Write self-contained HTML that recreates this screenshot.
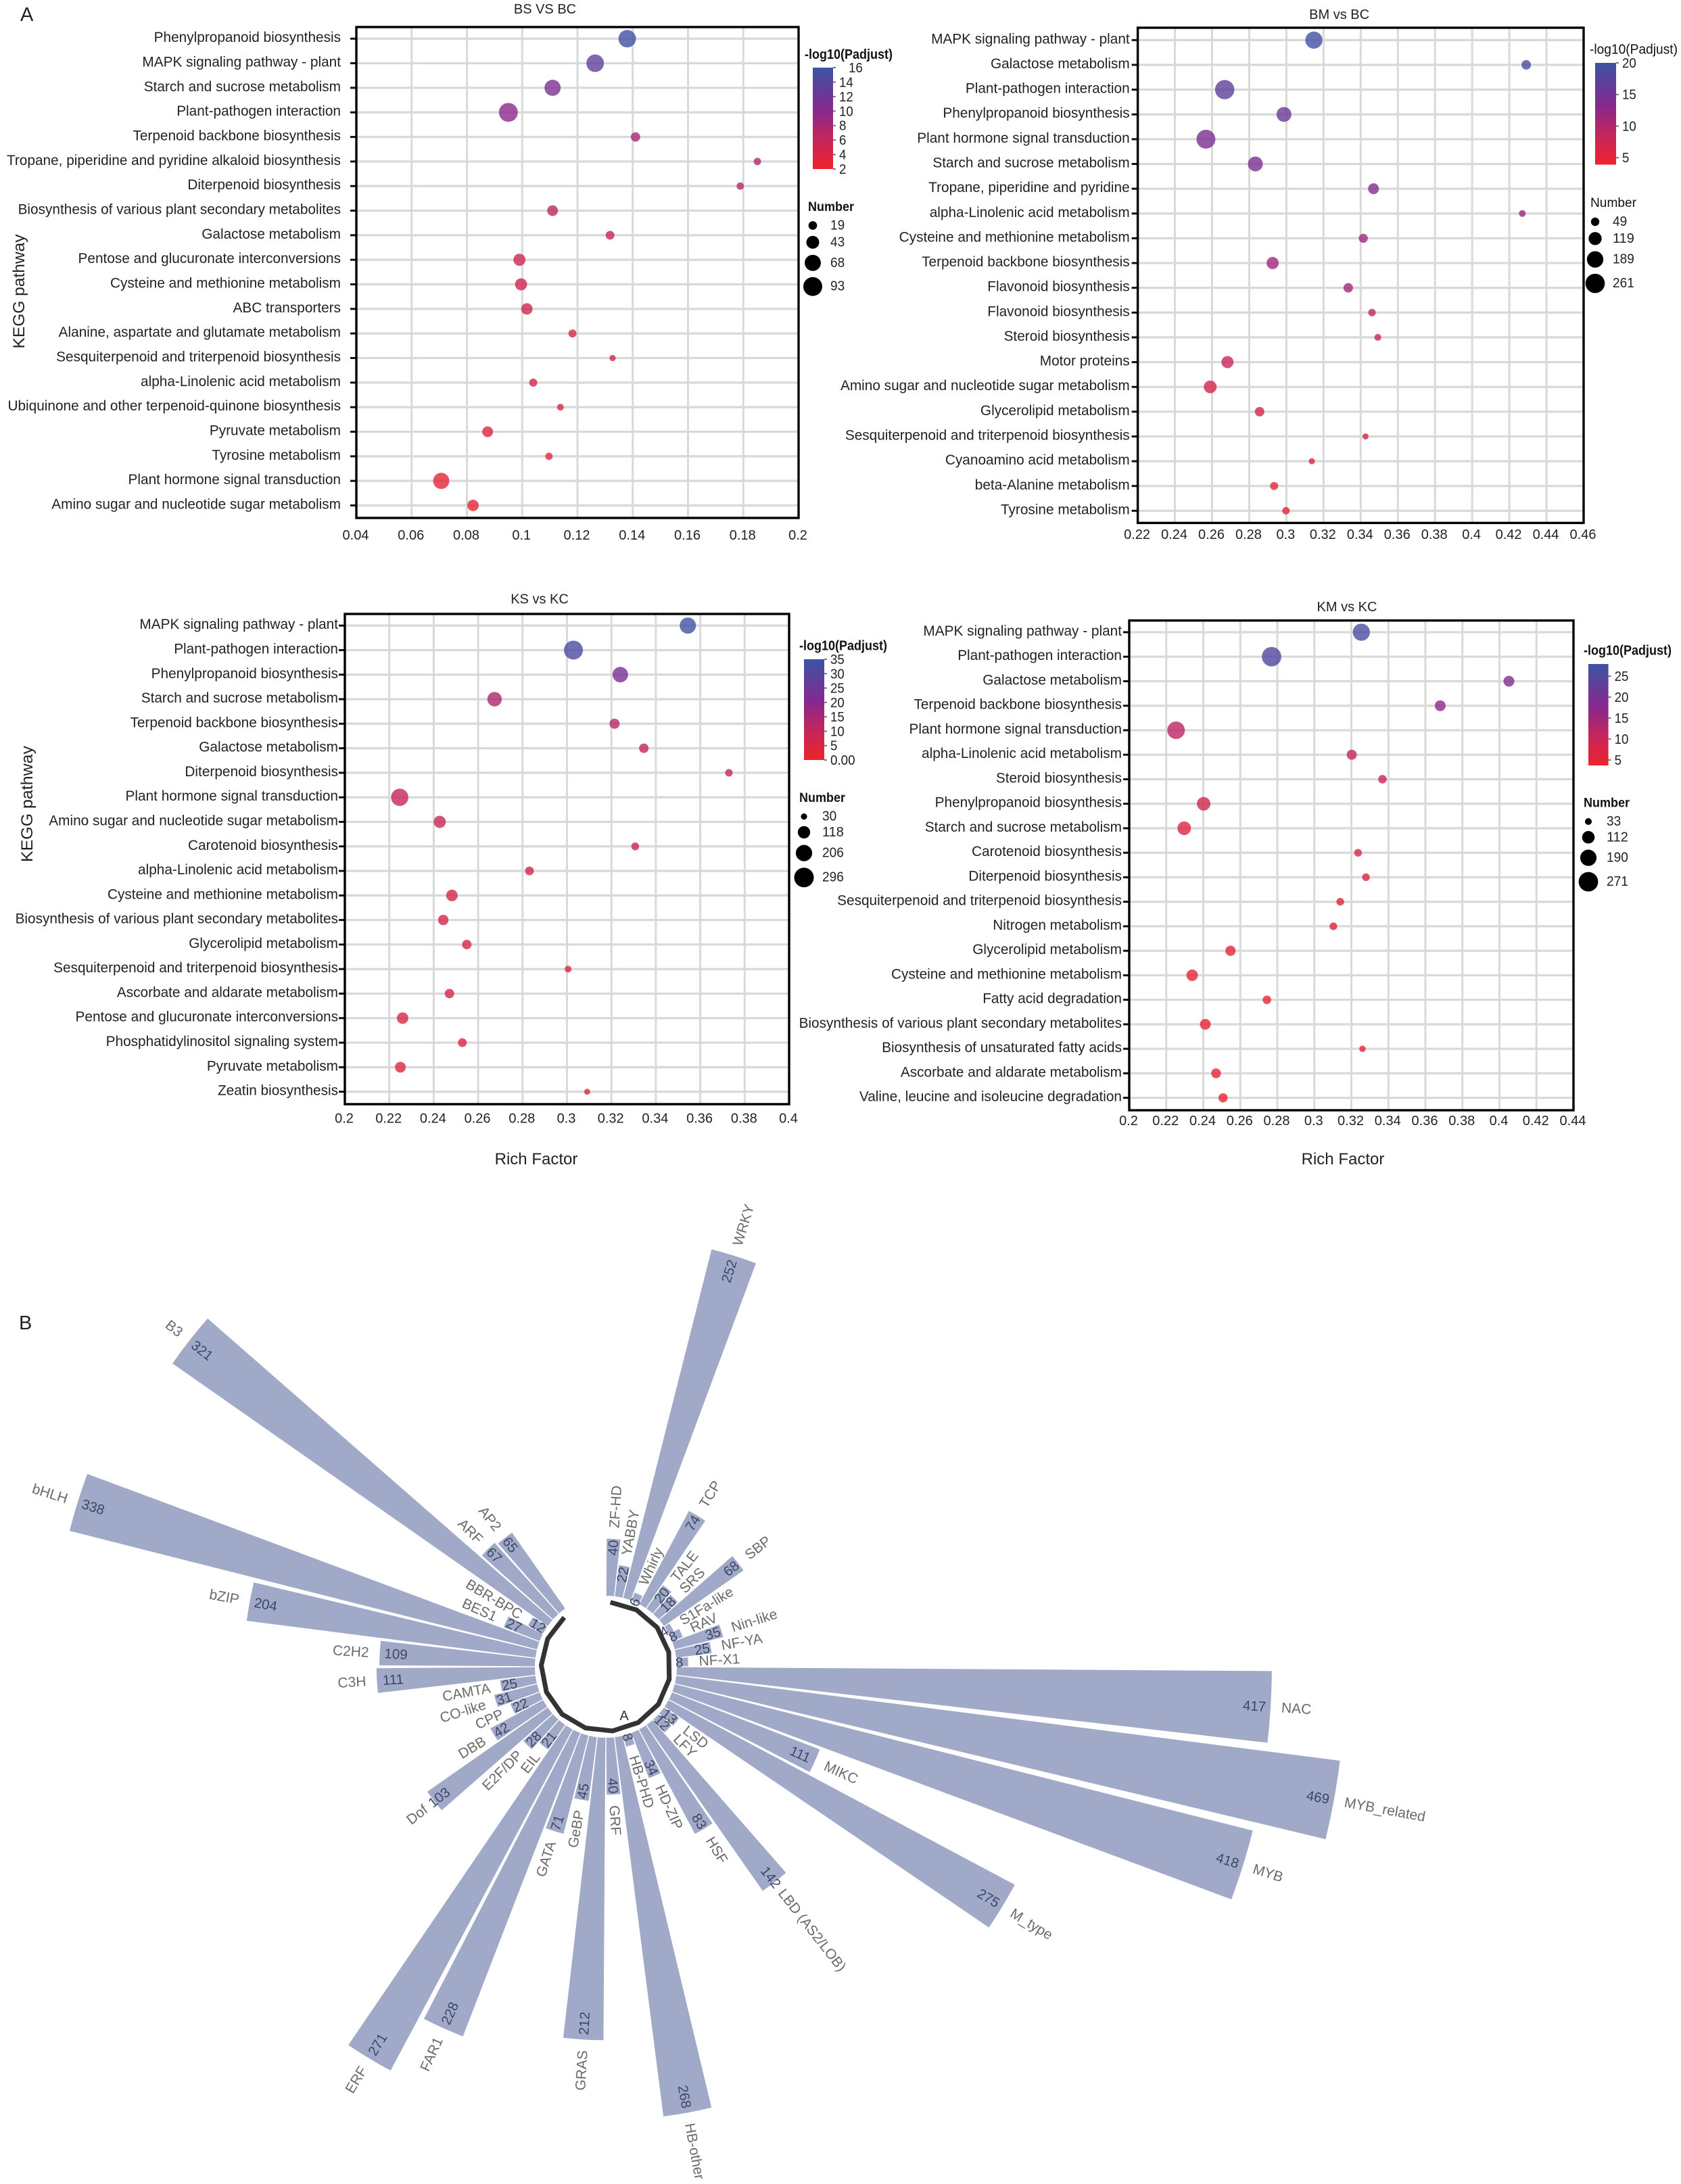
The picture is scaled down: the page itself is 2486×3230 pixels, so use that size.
<!DOCTYPE html>
<html lang="en">
<head>
<meta charset="utf-8">
<title>KEGG enrichment bubble charts and transcription factor family radial chart</title>
<style>
html,body{margin:0;padding:0;background:#fff;}
svg{display:block;font-family:"Liberation Sans",Arial,sans-serif;}
</style>
</head>
<body>
<svg id="figure" xmlns="http://www.w3.org/2000/svg" width="2486" height="3230" viewBox="0 0 2486 3230">
  <defs>
    <linearGradient id="cbarGrad" x1="0" y1="1" x2="0" y2="0">
      <stop offset="0" stop-color="#ee242c"/>
      <stop offset="0.3" stop-color="#c3265c"/>
      <stop offset="0.58" stop-color="#86288e"/>
      <stop offset="1" stop-color="#3c54a4"/>
    </linearGradient>
  </defs>
  <rect x="0" y="0" width="2486" height="3230" fill="#fff"/>
  <text x="30" y="31" font-size="29" fill="#222">A</text>
  <text x="28" y="1966" font-size="29" fill="#222">B</text>
  <text transform="translate(36,431) rotate(-90)" text-anchor="middle" font-size="24" textLength="169" lengthAdjust="spacingAndGlyphs" fill="#222">KEGG pathway</text>
  <text transform="translate(48,1189) rotate(-90)" text-anchor="middle" font-size="24" textLength="172" lengthAdjust="spacingAndGlyphs" fill="#222">KEGG pathway</text>
  <text x="793" y="1722" text-anchor="middle" font-size="24" fill="#222">Rich Factor</text>
  <text x="1986" y="1722" text-anchor="middle" font-size="24" fill="#222">Rich Factor</text>
</svg>
<script>
// ---------- BS vs BC ----------
const bsPathways = ['Phenylpropanoid biosynthesis','MAPK signaling pathway - plant','Starch and sucrose metabolism','Plant-pathogen interaction','Terpenoid backbone biosynthesis','Tropane, piperidine and pyridine alkaloid biosynthesis','Diterpenoid biosynthesis','Biosynthesis of various plant secondary metabolites','Galactose metabolism','Pentose and glucuronate interconversions','Cysteine and methionine metabolism','ABC transporters','Alanine, aspartate and glutamate metabolism','Sesquiterpenoid and triterpenoid biosynthesis','alpha-Linolenic acid metabolism','Ubiquinone and other terpenoid-quinone biosynthesis','Pyruvate metabolism','Tyrosine metabolism','Plant hormone signal transduction','Amino sugar and nucleotide sugar metabolism'];
const bsRich = [0.138,0.1264,0.111,0.095,0.141,0.1851,0.1789,0.111,0.1318,0.099,0.0996,0.1017,0.1182,0.1327,0.104,0.1138,0.0875,0.1097,0.0707,0.0822];
const bsNumber = [80,80,68,93,23,14,14,30,20,38,38,34,17,10,17,12,30,14,68,34];
const bsPadj = [15.5,13,11,9.8,8,7.5,7,6.5,6,5.5,5.3,5,4.7,4.4,4.2,4,3.8,3.6,3,2.8];
const bsXTicks = ['0.04','0.06','0.08','0.1','0.12','0.14','0.16','0.18','0.2'];
const bsColorTicks = ['16','14','12','10','8','6','4','2'];
const bsSizeTicks = ['19','43','68','93'];

// ---------- BM vs BC ----------
const bmPathways = ['MAPK signaling pathway - plant','Galactose metabolism','Plant-pathogen interaction','Phenylpropanoid biosynthesis','Plant hormone signal transduction','Starch and sucrose metabolism','Tropane, piperidine and pyridine','alpha-Linolenic acid metabolism','Cysteine and methionine metabolism','Terpenoid backbone biosynthesis','Flavonoid biosynthesis','Flavonoid biosynthesis','Steroid biosynthesis','Motor proteins','Amino sugar and nucleotide sugar metabolism','Glycerolipid metabolism','Sesquiterpenoid and triterpenoid biosynthesis','Cyanoamino acid metabolism','beta-Alanine metabolism','Tyrosine metabolism'];
const bmRich = [0.3148,0.4291,0.2668,0.2987,0.2567,0.2833,0.3469,0.427,0.3414,0.2926,0.3333,0.3461,0.3492,0.2683,0.259,0.2856,0.3426,0.3137,0.2934,0.2998];
const bmNumber = [206,63,261,155,250,155,82,32,57,103,63,39,32,103,115,63,26,26,46,39];
const bmPadj = [19.5,18.5,17,16,14.5,14.3,13.5,12,11.5,11.3,11,9,8.5,8,7,6.5,6,5.8,5.5,5];
const bmXTicks = ['0.22','0.24','0.26','0.28','0.3','0.32','0.34','0.36','0.38','0.4','0.42','0.44','0.46'];
const bmColorTicks = ['20','15','10','5'];
const bmSizeTicks = ['49','119','189','261'];

// ---------- KS vs KC ----------
const ksPathways = ['MAPK signaling pathway - plant','Plant-pathogen interaction','Phenylpropanoid biosynthesis','Starch and sucrose metabolism','Terpenoid backbone biosynthesis','Galactose metabolism','Diterpenoid biosynthesis','Plant hormone signal transduction','Amino sugar and nucleotide sugar metabolism','Carotenoid biosynthesis','alpha-Linolenic acid metabolism','Cysteine and methionine metabolism','Biosynthesis of various plant secondary metabolites','Glycerolipid metabolism','Sesquiterpenoid and triterpenoid biosynthesis','Ascorbate and aldarate metabolism','Pentose and glucuronate interconversions','Phosphatidylinositol signaling system','Pyruvate metabolism','Zeatin biosynthesis'];
const ksRich = [0.3544,0.3029,0.324,0.2674,0.3214,0.3346,0.3729,0.2247,0.2427,0.3307,0.2831,0.2482,0.2443,0.2549,0.3005,0.2471,0.226,0.2529,0.225,0.3091];
const ksNumber = [203,276,186,161,79,69,43,230,114,47,59,102,83,69,35,69,102,59,90,28];
const ksPadj = [34,32,23,14,12,11,10,10,8.5,8,7.5,7,6.5,6,5.5,5.5,5,5,4,4];
const ksXTicks = ['0.2','0.22','0.24','0.26','0.28','0.3','0.32','0.34','0.36','0.38','0.4'];
const ksColorTicks = ['35','30','25','20','15','10','5','0.00'];
const ksSizeTicks = ['30','118','206','296'];

// ---------- KM vs KC ----------
const kmPathways = ['MAPK signaling pathway - plant','Plant-pathogen interaction','Galactose metabolism','Terpenoid backbone biosynthesis','Plant hormone signal transduction','alpha-Linolenic acid metabolism','Steroid biosynthesis','Phenylpropanoid biosynthesis','Starch and sucrose metabolism','Carotenoid biosynthesis','Diterpenoid biosynthesis','Sesquiterpenoid and triterpenoid biosynthesis','Nitrogen metabolism','Glycerolipid metabolism','Cysteine and methionine metabolism','Fatty acid degradation','Biosynthesis of various plant secondary metabolites','Biosynthesis of unsaturated fatty acids','Ascorbate and aldarate metabolism','Valine, leucine and isoleucine degradation'];
const kmRich = [0.3254,0.2769,0.4051,0.368,0.2253,0.3202,0.3368,0.2402,0.2297,0.3236,0.3279,0.314,0.3103,0.2547,0.234,0.2744,0.2411,0.326,0.2469,0.2507];
const kmNumber = [210,271,84,84,221,73,52,131,131,42,42,42,42,75,94,52,84,29,68,60];
const kmPadj = [26,25,19,17,12,11,9.5,8.5,7,7,6.5,6,6,5.5,5.5,5,5,5,4.5,4.5];
const kmXTicks = ['0.2','0.22','0.24','0.26','0.28','0.3','0.32','0.34','0.36','0.38','0.4','0.42','0.44'];
const kmColorTicks = ['25','20','15','10','5'];
const kmSizeTicks = ['33','112','190','271'];

// ---------- Transcription factor families (clockwise) ----------
const tfFamilies = ['ZF-HD','YABBY','WRKY','Whirly','TCP','TALE','SRS','SBP','S1Fa-like','RAV','Nin-like','NF-YA','NF-X1','NAC','MYB_related','MYB','MIKC','M_type','LSD','LFY','LBD (AS2/LOB)','HSF','HD-ZIP','HB-PHD','HB-other','GRF','GRAS','GeBP','GATA','FAR1','ERF','EIL','E2F/DP','Dof','DBB','CPP','CO-like','CAMTA','C3H','C2H2','bZIP','bHLH','BES1','BBR-BPC','B3','ARF','AP2'];
const tfCounts = [40,22,252,6,74,20,18,68,4,8,35,25,8,417,469,418,111,275,13,12,142,83,34,8,268,40,212,45,71,228,271,21,28,103,42,22,31,25,111,109,204,338,27,12,321,67,65];

const NS = 'http://www.w3.org/2000/svg';
const figure = document.getElementById('figure');

function make(tag, parent, attrs) {
  const node = document.createElementNS(NS, tag);
  for (const k in attrs) node.setAttribute(k, attrs[k]);
  parent.appendChild(node);
  return node;
}
function slug(s) {
  return String(s).toLowerCase().replace(/[^a-z0-9]+/g, '-').replace(/^-|-$/g, '');
}
function lerpColor(t) {
  const stops = [[0,238,36,44],[0.3,195,38,92],[0.58,134,40,142],[1,60,84,164]];
  t = Math.max(0, Math.min(1, t));
  for (let i = 1; i < stops.length; i++) {
    if (t <= stops[i][0]) {
      const a = stops[i-1], b = stops[i], f = (t - a[0]) / (b[0] - a[0]);
      return 'rgb(' + [1,2,3].map(j => Math.round(a[j] + (b[j] - a[j]) * f)).join(',') + ')';
    }
  }
  return 'rgb(60,84,164)';
}

function drawBubblePlot(c) {
  const g = make('g', figure, {});
  
  

  const xMin = parseFloat(c.xTicks[0]), xMax = parseFloat(c.xTicks[c.xTicks.length - 1]);
  const xScale = v => c.left + (v - xMin) / (xMax - xMin) * (c.right - c.left);
  const yScale = i => c.row0 + i * (c.rowN - c.row0) / (c.labels.length - 1);
  const cMin = c.colorMin, cMax = c.colorMax;
  const colorY = v => c.cbBottom - (v - cMin) / (cMax - cMin) * (c.cbBottom - c.cbTop);
  const colorOf = v => lerpColor((v - cMin) / (cMax - cMin));
  const rScale = n => c.k * Math.sqrt(n);

  const title = make('text', g, {x: c.titleX, y: c.titleY + 7, 'text-anchor': 'middle', 'font-size': 20, fill: '#222'});
  
  
  title.textContent = c.title;

  // vertical grid + x tick labels
  c.xTicks.forEach(t => {
    const x = xScale(parseFloat(t));
    const line = make('line', g, {x1: x, x2: x, y1: c.top, y2: c.bottom, stroke: '#d9d9d9', 'stroke-width': 3});
    
    
    const lab = make('text', g, {x: x - 1, y: c.xLabelY + 7, 'text-anchor': 'middle', 'font-size': 20, fill: '#222'});
    
    
    lab.textContent = t;
  });

  // rows: horizontal grid, ticks, labels
  c.labels.forEach((name, i) => {
    const y = yScale(i);
    const line = make('line', g, {x1: c.left, x2: c.right, y1: y, y2: y, stroke: '#d9d9d9', 'stroke-width': 3.3});
    
    
    const tick = make('line', g, {x1: c.left - 9, x2: c.left, y1: y, y2: y, stroke: '#111', 'stroke-width': 3});
    
    
    const lab = make('text', g, {x: c.labelRight, y: y + 5, 'text-anchor': 'end', 'font-size': c.labelSize, fill: '#222'});
    
    
    lab.textContent = name;
  });

  // frame
  const frame = make('rect', g, {x: c.left, y: c.top, width: c.right - c.left, height: c.bottom - c.top, fill: 'none', stroke: '#000', 'stroke-width': 3.4});
  
  

  // bubbles
  c.labels.forEach((name, i) => {
    const dot = make('circle', g, {cx: xScale(c.rich[i]), cy: yScale(i), r: rScale(c.number[i]), fill: colorOf(c.padj[i]), 'fill-opacity': 0.8});
    
    
  });

  // colour legend
  const ct = make('text', g, {x: c.legendX, y: c.cbTitleY + 7, 'font-size': 20, 'font-weight': c.boldTitle ? 'bold' : 'normal', textLength: 130, lengthAdjust: 'spacingAndGlyphs', fill: '#111'});
  
  
  ct.textContent = '-log10(Padjust)';
  const bar = make('rect', g, {x: c.cbX0, y: c.cbTop, width: c.cbX1 - c.cbX0, height: c.cbBottom - c.cbTop, fill: 'url(#cbarGrad)'});
  
  
  c.colorTicks.forEach((t, idx) => {
    const y = colorY(parseFloat(t));
    const tk = make('line', g, {x1: c.cbX1, x2: c.cbX1 + 4, y1: y, y2: y, stroke: '#777', 'stroke-width': 2});
    
    
    const extra = idx === 0 ? (c.topTickDx || 0) : 0;
    const lab = make('text', g, {x: c.cbX1 + 9 + extra, y: y + 7, 'font-size': 20, textLength: t.length * 10.4 - (t.indexOf('.') >= 0 ? 5 : 0), lengthAdjust: 'spacingAndGlyphs', fill: '#222'});
    
    
    lab.textContent = t;
  });

  // size legend
  const st = make('text', g, {x: c.legendX + c.numberDx, y: c.numberTitleY + 7, 'font-size': 19, 'font-weight': c.boldTitle ? 'bold' : 'normal', textLength: 68, lengthAdjust: 'spacingAndGlyphs', fill: '#111'});
  
  
  st.textContent = 'Number';
  let sy = c.sizeY0, prevR = null;
  c.sizeTicks.forEach(t => {
    const r = rScale(parseFloat(t));
    if (prevR !== null) sy += prevR + r + c.sizeGap;
    prevR = r;
    const d = make('circle', g, {cx: c.cbX0, cy: sy, r: r, fill: '#000'});
    
    
    const lab = make('text', g, {x: c.sizeLabelX, y: sy + 6, 'font-size': 20, fill: '#222', textLength: t.length * 10.6, lengthAdjust: 'spacingAndGlyphs'});
    
    
    lab.textContent = t;
  });
}

drawBubblePlot({id:'bs-vs-bc', title:'BS VS BC', labels:bsPathways, rich:bsRich, number:bsNumber, padj:bsPadj, xTicks:bsXTicks, colorTicks:bsColorTicks, sizeTicks:bsSizeTicks,
  left:527,right:1181,top:40,bottom:766,row0:57.2,rowN:747.5,labelRight:504,labelSize:20.8,xLabelY:791,titleX:806,titleY:13,k:1.45,
  legendX:1190,cbTitleY:80,cbX0:1202,cbX1:1232,cbTop:100,cbBottom:250,colorMin:2,colorMax:16,topTickDx:14,boldTitle:true,numberDx:5,numberTitleY:305,sizeY0:333.5,sizeGap:9,sizeLabelX:1228});
drawBubblePlot({id:'bm-vs-bc', title:'BM vs BC', labels:bmPathways, rich:bmRich, number:bmNumber, padj:bmPadj, xTicks:bmXTicks, colorTicks:bmColorTicks, sizeTicks:bmSizeTicks,
  left:1682.6,right:2342,top:41,bottom:773.4,row0:59.3,rowN:755.4,labelRight:1670.7,labelSize:20.8,xLabelY:790,titleX:1980.6,titleY:21,k:0.885,
  legendX:2351,cbTitleY:72.5,cbX0:2359,cbX1:2390,cbTop:93,cbBottom:243.5,colorMin:3.9,colorMax:20,boldTitle:false,numberDx:1,numberTitleY:299,sizeY0:328,sizeGap:9,sizeLabelX:2385});
drawBubblePlot({id:'ks-vs-kc', title:'KS vs KC', labels:ksPathways, rich:ksRich, number:ksNumber, padj:ksPadj, xTicks:ksXTicks, colorTicks:ksColorTicks, sizeTicks:ksSizeTicks,
  left:510,right:1167,top:908,bottom:1633,row0:925.2,rowN:1614.6,labelRight:500,labelSize:20.8,xLabelY:1653.7,titleX:798,titleY:885.6,k:0.843,
  legendX:1182,cbTitleY:954.5,cbX0:1189,cbX1:1219,cbTop:975,cbBottom:1124,colorMin:0,colorMax:35,boldTitle:true,numberDx:0,numberTitleY:1179,sizeY0:1207.6,sizeGap:9.5,sizeLabelX:1216});
drawBubblePlot({id:'km-vs-kc', title:'KM vs KC', labels:kmPathways, rich:kmRich, number:kmNumber, padj:kmPadj, xTicks:kmXTicks, colorTicks:kmColorTicks, sizeTicks:kmSizeTicks,
  left:1670,right:2327,top:917.7,bottom:1642,row0:935,rowN:1623.6,labelRight:1659,labelSize:20.8,xLabelY:1657,titleX:1992,titleY:897,k:0.875,
  legendX:2342,cbTitleY:961.5,cbX0:2349,cbX1:2378.6,cbTop:982,cbBottom:1132,colorMin:3.7,colorMax:27.9,boldTitle:true,numberDx:0,numberTitleY:1186.5,sizeY0:1215,sizeGap:9,sizeLabelX:2376});

// ---------- Radial chart ----------
(function drawRadial() {
  const cx = 896, cy = 2465, inner = 105, unit = 2.11, step = 90 / 13, pad = 0.37;
  const g = make('g', figure, {});
  
  
  const rad = d => d * Math.PI / 180;
  const px = (a, r) => cx + r * Math.sin(rad(a));
  const py = (a, r) => cy - r * Math.cos(rad(a));
  const rScale = v => inner + v * unit;

  tfFamilies.forEach((name, i) => {
    const a0 = i * step + pad, a1 = (i + 1) * step - pad;
    const outer = rScale(tfCounts[i]);
    const d = 'M' + px(a0, inner) + ' ' + py(a0, inner) + 'L' + px(a0, outer) + ' ' + py(a0, outer) +
      'A' + outer + ' ' + outer + ' 0 0 1 ' + px(a1, outer) + ' ' + py(a1, outer) +
      'L' + px(a1, inner) + ' ' + py(a1, inner) +
      'A' + inner + ' ' + inner + ' 0 0 0 ' + px(a0, inner) + ' ' + py(a0, inner) + 'Z';
    const bar = make('path', g, {d: d, fill: '#a0a9c8'});
    
    
  });

  tfFamilies.forEach((name, i) => {
    const mid = (i + 0.5) * step, value = tfCounts[i];
    const outer = rScale(value);
    const right = mid < 180;
    const rot = right ? mid - 90 : mid + 90;
    const label = String(value);
    let off = label.length >= 3 ? 24 : 13;
    if (value === 103 || value === 142) off = 9;
    const vr = outer - off;
    const vx = px(mid, vr), vy = py(mid, vr);
    const vt = make('text', g, {x: vx, y: vy + 7, 'text-anchor': 'middle', 'font-size': 20.5, fill: '#3d4663', transform: 'rotate(' + rot + ' ' + vx + ' ' + vy + ')'});
    
    
    vt.textContent = label;
    const nr = outer + 16;
    const nx = px(mid, nr), ny = py(mid, nr);
    const nt = make('text', g, {x: nx, y: ny + 7, 'text-anchor': right ? 'start' : 'end', 'font-size': 21, fill: '#6a6a6a', transform: 'rotate(' + rot + ' ' + nx + ' ' + ny + ')'});
    
    
    nt.textContent = name;
  });

  // faceted ring
  let pts = [];
  for (let k = 0; k <= 13; k++) {
    const a = 4 + k * 24.3;
    pts.push(px(a, 95.5).toFixed(1) + ',' + py(a, 95.5).toFixed(1));
  }
  const ring = make('polyline', g, {points: pts.join(' '), fill: 'none', stroke: '#333', 'stroke-width': 7});
  
  

  const ringLabel = make('text', g, {x: 923, y: 2544, 'text-anchor': 'middle', 'font-size': 20, fill: '#333'});
  
  
  ringLabel.textContent = 'A';
})();
</script>
</body>
</html>
